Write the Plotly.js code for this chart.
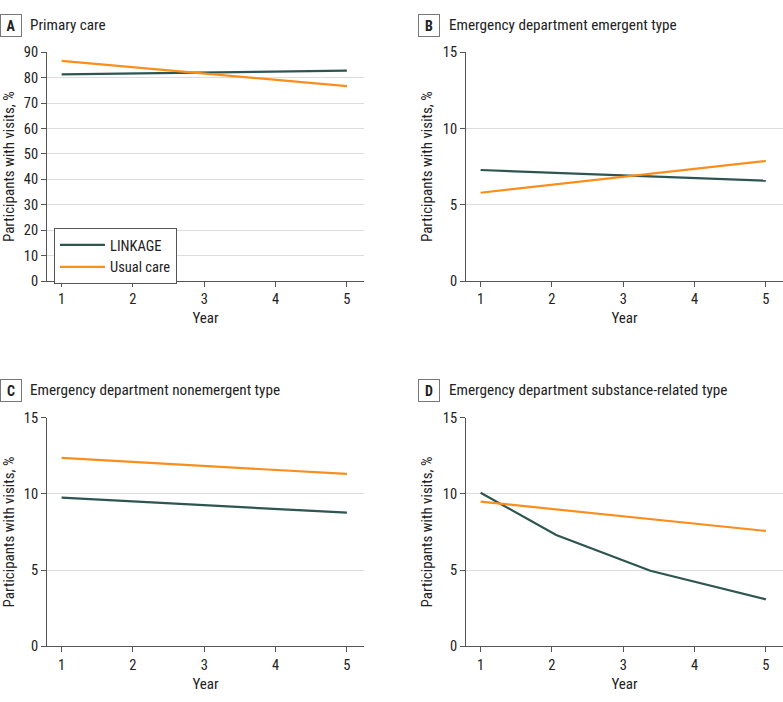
<!DOCTYPE html>
<html>
<head>
<meta charset="utf-8">
<script src="https://cdn.plot.ly/plotly-3.0.1.min.js"></script>
<style>html,body{margin:0;padding:0;background:#fff;}#chart{width:783px;height:702px;}</style>
</head>
<body>
<div id="chart"></div>
<script>
// ---- data ----
const years = [1, 2, 3, 4, 5];
const seriesNames = ["LINKAGE", "Usual care"];

// A: Primary care
const primaryLinkage = [81.3, 81.7, 82.0, 82.4, 82.8];
const primaryUsual   = [86.6, 84.1, 81.6, 79.2, 76.7];
// B: ED emergent type
const emergentLinkage = [7.28, 7.10, 6.93, 6.75, 6.58];
const emergentUsual   = [5.79, 6.31, 6.83, 7.35, 7.87];
// C: ED nonemergent type
const nonemergLinkage = [9.75, 9.51, 9.26, 9.02, 8.77];
const nonemergUsual   = [12.36, 12.10, 11.84, 11.57, 11.31];
// D: ED substance-related type (LINKAGE line has visible vertices)
const substanceLinkageYears = [1, 2.06, 3.38, 5];
const substanceLinkage      = [10.08, 7.30, 4.96, 3.08];
const substanceUsual        = [9.49, 9.01, 8.53, 8.05, 7.57];

const panelLetters = ["A", "B", "C", "D"];
const panelTitles = ["Primary care", "Emergency department emergent type",
  "Emergency department nonemergent type", "Emergency department substance-related type"];
const yTitle = "Participants with visits, %";
const xTitle = "Year";

// ---- styles ----
const FONT = "Roboto Condensed, Liberation Sans Narrow, DejaVu Sans Condensed, sans-serif";
const TEAL = "#2e5552";
const ORANGE = "#f98e1d";
const W = 783, H = 702;

function line(x, y, color, name, ax, show) {
  return {x: x, y: y, type: "scatter", mode: "lines", name: name,
    line: {color: color, width: 2.2}, xaxis: ax.x, yaxis: ax.y,
    showlegend: show, hoverinfo: "skip"};
}
const axes = [{x: "x", y: "y"}, {x: "x2", y: "y2"}, {x: "x3", y: "y3"}, {x: "x4", y: "y4"}];
const data = [
  line(years, primaryLinkage, TEAL, seriesNames[0], axes[0], true),
  line(years, primaryUsual, ORANGE, seriesNames[1], axes[0], true),
  line(years, emergentLinkage, TEAL, seriesNames[0], axes[1], false),
  line(years, emergentUsual, ORANGE, seriesNames[1], axes[1], false),
  line(years, nonemergLinkage, TEAL, seriesNames[0], axes[2], false),
  line(years, nonemergUsual, ORANGE, seriesNames[1], axes[2], false),
  line(substanceLinkageYears, substanceLinkage, TEAL, seriesNames[0], axes[3], false),
  line(years, substanceUsual, ORANGE, seriesNames[1], axes[3], false)
];

const xDomL = [47 / W, 364 / W], xDomR = [466 / W, 1];
const yDomT = [(H - 281) / H, (H - 52.3) / H], yDomB = [(H - 646.3) / H, (H - 417.7) / H];

function xAxis(domain, anchor) {
  return {domain: domain, anchor: anchor, range: [0.795, 5.24], tickvals: years,
    ticks: "outside", ticklen: 5, tickcolor: "#555", showline: true, linecolor: "#555",
    linewidth: 1, showgrid: false, zeroline: false, automargin: false,
    tickfont: {family: FONT, size: 14.5, color: "#222"},
    title: {text: xTitle, standoff: 5, font: {family: FONT, size: 15, color: "#222"}}};
}
function yAxis(domain, anchor, max, dtick) {
  return {domain: domain, anchor: anchor, range: [0, max], dtick: dtick,
    ticks: "outside", ticklen: 5, tickcolor: "#555", showline: true, linecolor: "#555",
    linewidth: 1, showgrid: true, gridcolor: "#dcdcdc", gridwidth: 1, zeroline: false,
    automargin: false, tickfont: {family: FONT, size: 14.5, color: "#222"},
    title: {text: yTitle, standoff: 6, font: {family: FONT, size: 15, color: "#222"}}};
}

const annotations = [];
const labelPos = [
  {bx: 0, tx: 28, y: 25},
  {bx: 418, tx: 447, y: 25},
  {bx: 0, tx: 28, y: 390},
  {bx: 418, tx: 447, y: 390}
];
labelPos.forEach((p, i) => {
  annotations.push({xref: "paper", yref: "paper", x: p.bx / W, y: (H - p.y) / H,
    xanchor: "left", yanchor: "middle", showarrow: false,
    text: "<b>" + panelLetters[i] + "</b>", font: {family: FONT, size: 14, color: "#222"},
    bordercolor: "#777", borderwidth: 1, borderpad: 2, bgcolor: "#fff", width: 16, height: 17});
  annotations.push({xref: "paper", yref: "paper", x: p.tx / W, y: (H - p.y) / H,
    xanchor: "left", yanchor: "middle", showarrow: false,
    text: panelTitles[i], font: {family: FONT, size: 15.2, color: "#222"}});
});

const layout = {
  width: W, height: H, margin: {l: 0, r: 0, t: 0, b: 0},
  paper_bgcolor: "#fff", plot_bgcolor: "#fff",
  font: {family: FONT, size: 14, color: "#222"},
  xaxis: xAxis(xDomL, "y"), yaxis: yAxis(yDomT, "x", 90, 10),
  xaxis2: xAxis(xDomR, "y2"), yaxis2: yAxis(yDomT, "x2", 15, 5),
  xaxis3: xAxis(xDomL, "y3"), yaxis3: yAxis(yDomB, "x3", 15, 5),
  xaxis4: xAxis(xDomR, "y4"), yaxis4: yAxis(yDomB, "x4", 15, 5),
  legend: {x: 54 / W, y: (H - 228) / H, xanchor: "left", yanchor: "top",
    bordercolor: "#555", borderwidth: 1, bgcolor: "#fff", itemwidth: 45,
    font: {family: FONT, size: 14.5, color: "#222"}, tracegroupgap: 0},
  annotations: annotations,
  showlegend: true
};

Plotly.newPlot("chart", data, layout, {staticPlot: true, displayModeBar: false});
</script>
</body>
</html>
